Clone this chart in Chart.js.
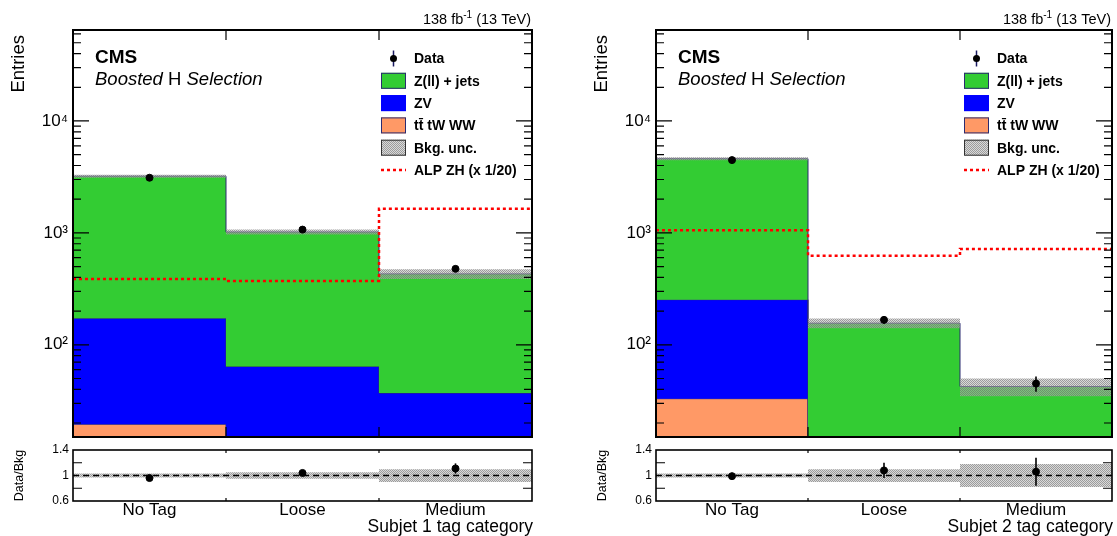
<!DOCTYPE html>
<html>
<head>
<meta charset="utf-8">
<script src="https://cdn.jsdelivr.net/npm/chart.js@4.4.0/dist/chart.umd.min.js"></script>
<style>
  html, body { margin: 0; padding: 0; background: #fff; }
  #wrap { position: relative; width: 1117px; height: 536px; }
  canvas { position: absolute; left: 0; top: 0; }
</style>
</head>
<body>
<div id="wrap">
  <canvas id="main1" width="1117" height="536"></canvas>
  <canvas id="ratio1" width="1117" height="536"></canvas>
  <canvas id="main2" width="1117" height="536"></canvas>
  <canvas id="ratio2" width="1117" height="536"></canvas>
</div>
<script>
// ---- data ----
const categories = ['No Tag', 'Loose', 'Medium'];
const xTitles = ['Subjet 1 tag category', 'Subjet 2 tag category'];

// Subjet 1
const ttbar1 = [19.5, 9, 5];
const zv1 = [153, 55, 32];
const zjets1 = [3040, 955, 393];
const data1 = [3110, 1070, 477];
const dataErr1 = [56, 33, 22];
const alp1 = [388, 372, 1640];
const bkgUnc1 = [0.03, 0.05, 0.10];
const ratio1 = [0.96, 1.04, 1.11];
const ratioErr1 = [0.02, 0.03, 0.08];

// Subjet 2
const ttbar2 = [33, 2, 1];
const zv2 = [220, 7, 3];
const zjets2 = [4347, 147, 38.4];
const data2 = [4470, 167, 45];
const dataErr2 = [67, 13, 7];
const alp2 = [1055, 626, 719];
const bkgUnc2 = [0.03, 0.10, 0.18];
const ratio2 = [0.99, 1.08, 1.06];
const ratioErr2 = [0.015, 0.12, 0.22];

const yTicks = [100, 1000, 10000];
const yTickLabels = ['10\u00b2', '10\u00b3', '10\u2074'];
const ratioTicks = [0.6, 1, 1.4];
const ratioTickLabels = ['0.6', '1', '1.4'];
const ratioRef = [1, 1, 1];

const legendLabels = ['Data', 'Z(ll) + jets', 'ZV', 'tt\u0304 tW WW', 'Bkg. unc.', 'ALP ZH (x 1/20)'];

// ---- style ----
const FONT = '"Liberation Sans", Arial, Helvetica, sans-serif';
const COL = { tt: '#ff9966', zv: '#0000ff', zj: '#33cc33', line: '#2b2b70', alp: '#ff0000' };
const W = 1117;

function makeHatch() {
  const c = document.createElement('canvas');
  c.width = 4; c.height = 4;
  const g = c.getContext('2d');
  g.fillStyle = 'rgba(185,185,185,0.55)';
  g.fillRect(0, 0, 4, 4);
  g.fillStyle = 'rgba(95,95,95,0.5)';
  for (let i = 0; i < 4; i++)
    for (let j = 0; j < 4; j++)
      if ((i + j) % 2 === 0) g.fillRect(i, j, 1, 1);
  return g.createPattern(c, 'repeat');
}
const hatch = makeHatch();

function steps(vals) {
  const pts = vals.map((v, i) => ({ x: i, y: v }));
  pts.push({ x: vals.length, y: vals[vals.length - 1] });
  return pts;
}
function centers(vals) {
  return vals.map((v, i) => ({ x: i + 0.5, y: v }));
}

// ---- decorations: frame, inner ticks, texts, error bars ----
function frameTicks(ctx, area, yScale, xScale, o) {
  ctx.save();
  ctx.strokeStyle = '#000';
  ctx.lineWidth = o.frameWidth;
  ctx.strokeRect(area.left, area.top, area.right - area.left, area.bottom - area.top);
  ctx.lineWidth = 1.2;
  ctx.beginPath();
  o.yMajor.forEach(v => {
    const y = yScale.getPixelForValue(v);
    ctx.moveTo(area.left, y); ctx.lineTo(area.left + o.majLen, y);
    ctx.moveTo(area.right, y); ctx.lineTo(area.right - o.majLen, y);
  });
  o.yMinor.forEach(v => {
    const y = yScale.getPixelForValue(v);
    ctx.moveTo(area.left, y); ctx.lineTo(area.left + o.minLen, y);
    ctx.moveTo(area.right, y); ctx.lineTo(area.right - o.minLen, y);
  });
  [1, 2].forEach(v => {
    const x = xScale.getPixelForValue(v);
    ctx.moveTo(x, area.top); ctx.lineTo(x, area.top + o.xLen);
    ctx.moveTo(x, area.bottom); ctx.lineTo(x, area.bottom - o.xLen);
  });
  ctx.stroke();
  ctx.restore();
}

function drawLumi(ctx, right, y) {
  const parts = [['138 fb', '14.5px ' + FONT, 0], ['-1', '10px ' + FONT, -6], [' (13 TeV)', '14.5px ' + FONT, 0]];
  ctx.textAlign = 'left';
  ctx.textBaseline = 'alphabetic';
  let w = 0;
  parts.forEach(p => { ctx.font = p[1]; w += ctx.measureText(p[0]).width; });
  let x = right - w;
  parts.forEach(p => { ctx.font = p[1]; ctx.fillText(p[0], x, y + p[2]); x += ctx.measureText(p[0]).width; });
}

function drawRow(ctx, parts, x, y) {
  ctx.textAlign = 'left';
  parts.forEach(p => { ctx.font = p[1]; ctx.fillText(p[0], x, y); x += ctx.measureText(p[0]).width; });
}

function drawLegend(ctx, off) {
  const rows = [58.5, 80.8, 103.1, 125.4, 147.7, 170];
  const bx = off + 381, bw = 25, bh = 16;
  ctx.save();
  ctx.font = 'bold 14px ' + FONT;
  ctx.textBaseline = 'middle';
  ctx.fillStyle = '#000';
  legendLabels.forEach((t, i) => ctx.fillText(t, off + 414, rows[i] + 1));
  // data marker
  ctx.strokeStyle = '#1a1a60';
  ctx.lineWidth = 1.5;
  ctx.beginPath(); ctx.moveTo(bx + 12.5, rows[0] - 8); ctx.lineTo(bx + 12.5, rows[0] + 8); ctx.stroke();
  ctx.beginPath(); ctx.arc(bx + 12.5, rows[0], 3.5, 0, Math.PI * 2); ctx.fillStyle = '#000'; ctx.fill();
  // boxes
  [[COL.zj, COL.line], [COL.zv, COL.zv], [COL.tt, COL.line], [hatch, '#333']].forEach((c, k) => {
    const y = rows[k + 1] - bh / 2;
    ctx.fillStyle = '#fff';
    ctx.fillRect(bx, y, bw, bh);
    ctx.fillStyle = c[0];
    ctx.fillRect(bx, y, bw, bh);
    ctx.strokeStyle = c[1];
    ctx.lineWidth = 1;
    ctx.strokeRect(bx + 0.5, y + 0.5, bw - 1, bh - 1);
  });
  ctx.strokeStyle = COL.alp;
  ctx.lineWidth = 2.5;
  ctx.setLineDash([3, 3]);
  ctx.beginPath(); ctx.moveTo(bx, rows[5]); ctx.lineTo(bx + bw, rows[5]); ctx.stroke();
  ctx.restore();
}

const decor = {
  id: 'cmsDecor',
  afterDatasetsDraw(chart, args, o) {
    const ctx = chart.ctx;
    const ys = chart.scales.y;
    const xs = chart.scales.x;
    ctx.save();
    ctx.strokeStyle = '#000';
    ctx.lineWidth = 1.6;
    chart.data.datasets.forEach(ds => {
      if (!ds.errors) return;
      ds.data.forEach((p, i) => {
        const x = xs.getPixelForValue(p.x);
        ctx.beginPath();
        ctx.moveTo(x, ys.getPixelForValue(p.y - ds.errors[i]));
        ctx.lineTo(x, ys.getPixelForValue(p.y + ds.errors[i]));
        ctx.stroke();
      });
    });
    ctx.restore();
  },
  afterDraw(chart, args, o) {
    const ctx = chart.ctx;
    const area = chart.chartArea;
    const ys = chart.scales.y;
    const xs = chart.scales.x;
    const off = o.off;
    frameTicks(ctx, area, ys, xs, o);
    ctx.save();
    ctx.fillStyle = '#000';
    if (o.kind === 'main') {
      drawLumi(ctx, area.right - 1, 24);
      ctx.textBaseline = 'alphabetic';
      drawRow(ctx, [['CMS', 'bold 19px ' + FONT]], off + 95, 63);
      drawRow(ctx, [['Boosted ', 'italic 18.5px ' + FONT], ['H', '18.5px ' + FONT], [' Selection', 'italic 18.5px ' + FONT]], off + 95, 85);
      drawLegend(ctx, off);
      ctx.save();
      ctx.translate(off + 24, 35);
      ctx.rotate(-Math.PI / 2);
      ctx.font = '18.5px ' + FONT;
      ctx.textAlign = 'right';
      ctx.textBaseline = 'alphabetic';
      ctx.fillText('Entries', 0, 0);
      ctx.restore();
    } else {
      ctx.save();
      ctx.translate(off + 23, (area.top + area.bottom) / 2);
      ctx.rotate(-Math.PI / 2);
      ctx.font = '12.5px ' + FONT;
      ctx.textAlign = 'center';
      ctx.textBaseline = 'alphabetic';
      ctx.fillText('Data/Bkg', 0, 0);
      ctx.restore();
      ctx.font = '17.5px ' + FONT;
      ctx.textAlign = 'right';
      ctx.textBaseline = 'alphabetic';
      ctx.fillText(xTitles[o.panel], area.right + 1, 532);
    }
    ctx.restore();
  }
};
Chart.register(decor);

function logMinors(min, max) {
  const out = [];
  for (let e = 1; e <= 4; e++)
    for (let k = 2; k <= 9; k++) {
      const v = k * Math.pow(10, e);
      if (v > min && v < max) out.push(v);
    }
  return out;
}

function mainChart(id, panel, off, tt, zv, zj, dat, err, alp, unc) {
  const c1 = tt;
  const c2 = tt.map((v, i) => v + zv[i]);
  const tot = c2.map((v, i) => v + zj[i]);
  const line = { stepped: true, pointRadius: 0, borderWidth: 1, borderColor: COL.line };
  new Chart(document.getElementById(id), {
    type: 'line',
    data: {
      datasets: [
        { ...line, data: steps(c1), fill: 'start', backgroundColor: COL.tt, order: 7 },
        { ...line, data: steps(c2), fill: '-1', backgroundColor: COL.zv, order: 6 },
        { ...line, data: steps(tot), fill: '-1', backgroundColor: COL.zj, order: 5 },
        { ...line, data: steps(tot.map((v, i) => v * (1 - unc[i]))), borderWidth: 0, fill: false, order: 4 },
        { ...line, data: steps(tot.map((v, i) => v * (1 + unc[i]))), borderWidth: 0, fill: '-1', backgroundColor: hatch, order: 3 },
        { ...line, data: steps(alp), borderColor: COL.alp, borderWidth: 2.5, borderDash: [3, 3], fill: false, order: 2 },
        { data: centers(dat), errors: err, showLine: false, pointRadius: 3.5, pointBackgroundColor: '#000', pointBorderColor: '#000', order: 1 }
      ]
    },
    options: {
      responsive: false, animation: false, events: [],
      layout: { padding: { left: off, right: W - (off + 532), top: 30, bottom: 99 } },
      plugins: {
        legend: { display: false }, tooltip: { enabled: false },
        cmsDecor: { kind: 'main', panel, off, frameWidth: 2, yMajor: yTicks, yMinor: logMinors(15, 65000), majLen: 16, minLen: 8, xLen: 10 }
      },
      scales: {
        x: { type: 'linear', min: 0, max: 3, display: false },
        y: {
          type: 'logarithmic', min: 15, max: 65000, bounds: 'data',
          afterBuildTicks: s => { s.ticks = yTicks.map(v => ({ value: v })); },
          afterFit: s => { s.width = 73; },
          grid: { display: false, drawTicks: false }, border: { display: false },
          ticks: { callback: v => yTickLabels[yTicks.indexOf(v)] ?? '', font: { family: FONT, size: 17 }, color: '#000', padding: 5 }
        }
      }
    }
  });
}

function ratioChart(id, panel, off, r, rErr, unc) {
  const line = { stepped: true, pointRadius: 0, borderWidth: 0 };
  new Chart(document.getElementById(id), {
    type: 'line',
    data: {
      datasets: [
        { ...line, data: steps(ratioRef.map((v, i) => v - unc[i])), fill: false, order: 4 },
        { ...line, data: steps(ratioRef.map((v, i) => v + unc[i])), fill: '-1', backgroundColor: hatch, order: 3 },
        { ...line, data: steps(ratioRef), borderWidth: 1.5, borderColor: '#000', borderDash: [6, 4], fill: false, order: 2 },
        { data: centers(r), errors: rErr, showLine: false, pointRadius: 3.5, pointBackgroundColor: '#000', pointBorderColor: '#000', order: 1 }
      ]
    },
    options: {
      responsive: false, animation: false, events: [],
      layout: { padding: { left: off, right: W - (off + 532), top: 450, bottom: 0 } },
      plugins: {
        legend: { display: false }, tooltip: { enabled: false },
        cmsDecor: { kind: 'ratio', panel, off, frameWidth: 1.6, yMajor: [1.2, 0.8], yMinor: [], majLen: 9, minLen: 0, xLen: 3 }
      },
      scales: {
        x: {
          type: 'linear', min: 0, max: 3,
          afterBuildTicks: s => { s.ticks = categories.map((c, i) => ({ value: i + 0.5 })); },
          afterFit: s => { s.height = 35; },
          grid: { display: false, drawTicks: false }, border: { display: false },
          ticks: { callback: v => categories[Math.floor(v)], font: { family: FONT, size: 17 }, color: '#000', padding: -1, maxRotation: 0, minRotation: 0, autoSkip: false }
        },
        y: {
          min: 0.6, max: 1.4, bounds: 'data',
          afterBuildTicks: s => { s.ticks = ratioTicks.map(v => ({ value: v })); },
          afterFit: s => { s.width = 73; },
          grid: { display: false, drawTicks: false }, border: { display: false },
          ticks: { callback: v => ratioTickLabels[ratioTicks.indexOf(v)] ?? '', font: { family: FONT, size: 12 }, color: '#000', padding: 4 }
        }
      }
    }
  });
}

mainChart('main1', 0, 0, ttbar1, zv1, zjets1, data1, dataErr1, alp1, bkgUnc1);
ratioChart('ratio1', 0, 0, ratio1, ratioErr1, bkgUnc1);
mainChart('main2', 1, 583, ttbar2, zv2, zjets2, data2, dataErr2, alp2, bkgUnc2);
ratioChart('ratio2', 1, 583, ratio2, ratioErr2, bkgUnc2);
</script>
</body>
</html>
